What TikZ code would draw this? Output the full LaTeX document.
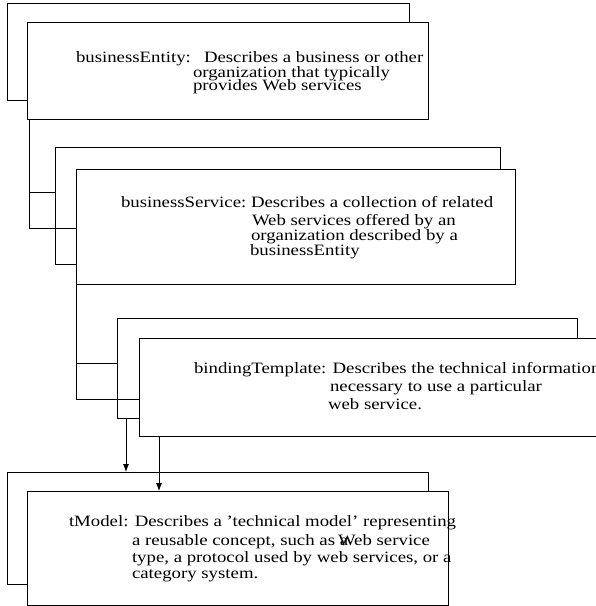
\documentclass[tikz,border=0pt]{standalone}
\usepackage{fontspec}
\setmainfont[FakeStretch=1.19]{Liberation Serif}
\usetikzlibrary{arrows.meta,calc}

\tikzset{
  card/.style={draw=black, fill=white, line width=0.8pt, rectangle,
    inner sep=0pt, outer sep=0pt, anchor=north west},
  txt/.style={anchor=base west, inner sep=0pt, outer sep=0pt,
    font=\fontsize{15.8}{16}\selectfont},
  link/.style={draw=black, line width=0.8pt},
  feed/.style={link, -{Latex[length=8pt,width=6pt]}},
}

\begin{document}
\begin{tikzpicture}[x=1pt,y=-1pt]
\useasboundingbox (0,0) rectangle (596,606);

% stacked cards: a shadow card behind each front card
\node[card, minimum width=402pt, minimum height=97pt]  (entBack)  at (7,3)    {};
\node[card, minimum width=401pt, minimum height=97pt]  (entFront) at (27,22)  {};
\node[card, minimum width=445pt, minimum height=117pt] (svcBack)  at (55,147) {};
\node[card, minimum width=439pt, minimum height=115pt] (svcFront) at (76,169) {};
\node[card, minimum width=460pt, minimum height=100pt] (bndBack)  at (117,318) {};
\node[card, minimum width=520pt, minimum height=98pt]  (bndFront) at (139,338) {};
\node[card, minimum width=421pt, minimum height=112pt] (tmBack)   at (7,472)  {};
\node[card, minimum width=421pt, minimum height=114pt] (tmFront)  at (27,491) {};

% containment links
\coordinate (entDrop) at ([xshift=2pt]entFront.south west);
\draw[link] (entDrop) |- ([yshift=-45pt]svcBack.north west);
\draw[link] (entDrop) |- ([yshift=-59pt]svcFront.north west);
\draw[link] (svcFront.south west) |- ([yshift=-45pt]bndBack.north west);
\draw[link] (svcFront.south west) |- ([yshift=-61pt]bndFront.north west);

% references to tModel
\coordinate (bndRefA) at ([xshift=9pt]bndBack.south west);
\coordinate (bndRefB) at ([xshift=20pt]bndFront.south west);
\draw[feed] (bndRefA) -- (bndRefA |- tmBack.north);
\draw[feed] (bndRefB) -- (bndRefB |- tmFront.north);

% businessEntity
\node[txt] (entKey) at (76,62)  {businessEntity:};
\node[txt] (entL1)  at (204,62) {Describes a business or other};
\node[txt] (entL2)  at (193,77) {organization that typically};
\node[txt] (entL3)  at (193,90) {provides Web services};

% businessService
\node[txt] (svcKey) at (121,207) {businessService:};
\node[txt] (svcL1)  at (251,207) {Describes a collection of related};
\node[txt] (svcL2)  at (252,225) {Web services offered by an};
\node[txt] (svcL3)  at (251,240) {organization described by a};
\node[txt] (svcL4)  at (250,255) {businessEntity};

% bindingTemplate
\node[txt] (bndL1)  at (194,373) {bindingTemplate: Describes the technical information};
\node[txt] (bndL2)  at (330,391) {necessary to use a particular};
\node[txt] (bndL3)  at (328,409) {web service.};

% tModel
\node[txt] (tmL1)  at (69,526)  {tModel: Describes a ’technical model’ representing};
\node[txt] (tmL2)  at (132,545) {a reusable concept, such as a};
\node[txt] (tmL2b) at (338,545) {Web service};
\node[txt] (tmL3)  at (132,562) {type, a protocol used by web services, or a};
\node[txt] (tmL4)  at (132,578) {category system.};
\end{tikzpicture}
\end{document}
